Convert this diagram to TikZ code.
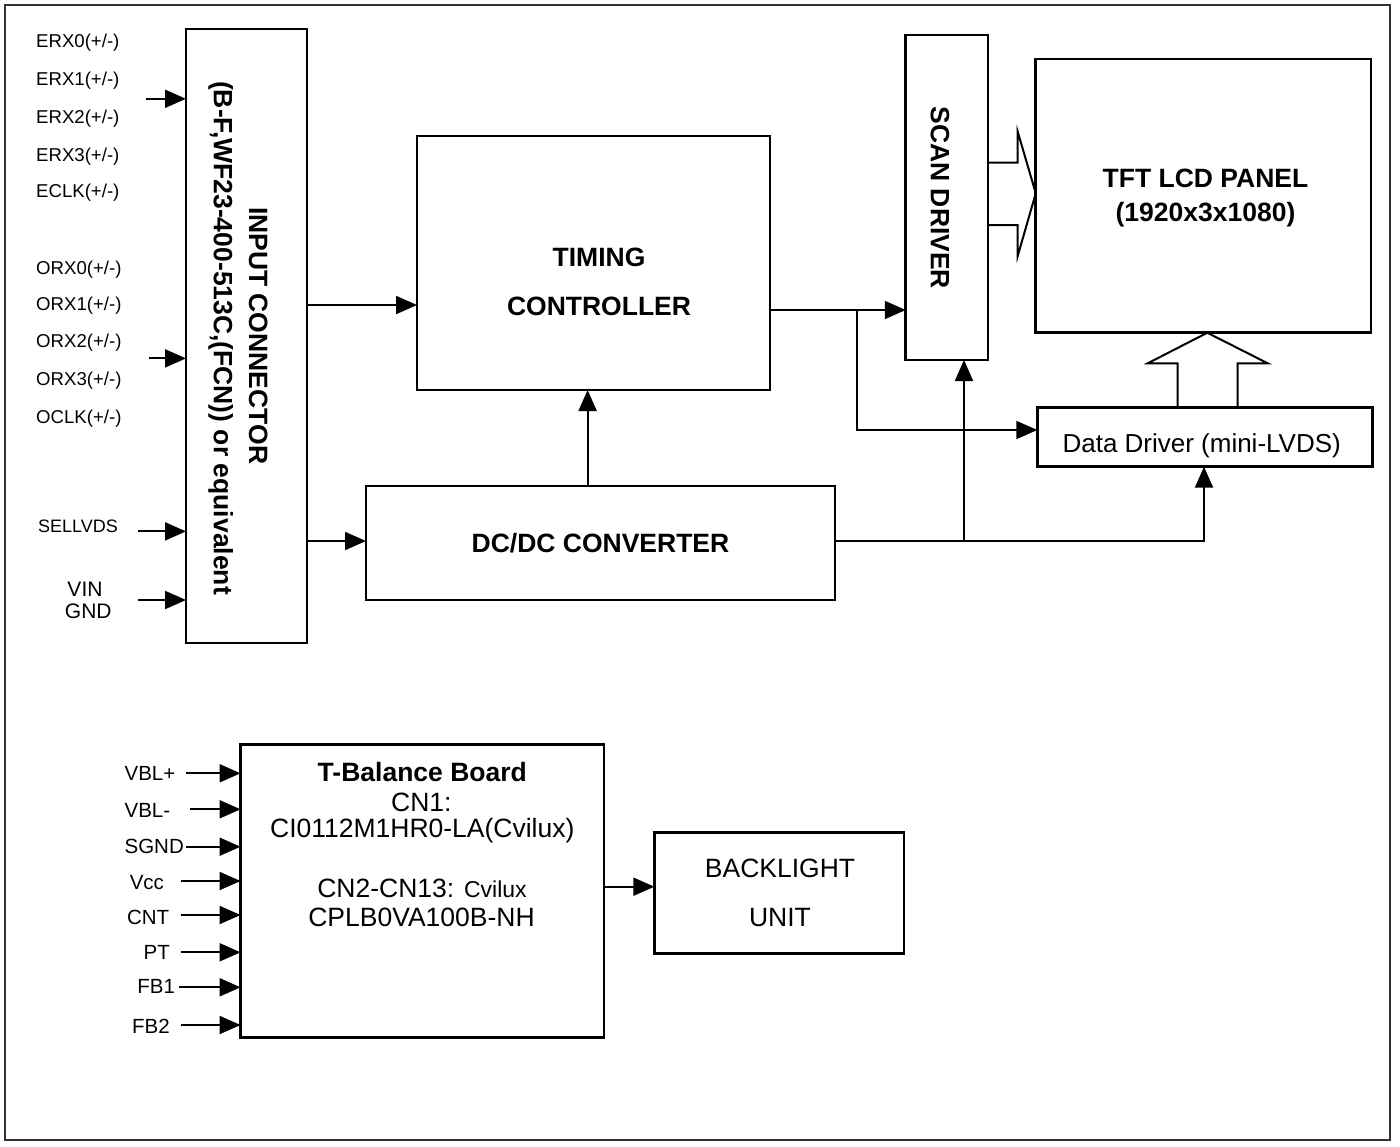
\documentclass[tikz,border=0pt]{standalone}
\usepackage{fontspec}
\setmainfont{Liberation Sans}
\usetikzlibrary{arrows.meta}
\newcommand\blkbold{\fontsize{26.5}{30}\selectfont\bfseries}
\newcommand\blknorm{\fontsize{26.5}{30}\selectfont}
\newcommand\lblsmall{\fontsize{18.6}{22}\selectfont}
\newcommand\lblvin{\fontsize{21}{24}\selectfont}
\newcommand\lbltb{\fontsize{20.5}{24}\selectfont}
\begin{document}
\begin{tikzpicture}[x=1pt,y=-1pt,
  box/.style={draw,line width=2.6pt,inner sep=0pt,outer sep=0pt},
  arr/.style={-{Triangle[length=21pt,width=18pt]},line width=2pt},
  hol/.style={draw,line width=2pt,line join=miter},
  txt/.style={inner sep=0pt,anchor=base},
  lbl/.style={inner sep=0pt,anchor=base west,font=\lblsmall},
  tbl/.style={inner sep=0pt,anchor=base west,font=\lbltb}]
\useasboundingbox (0,0) rectangle (1400,1146);
\draw[line width=2pt,black!80] (5,5) rectangle (1390,1140);

% blocks
\node[box,minimum width=121pt,minimum height=614pt] (inp) at (246.5,336) {};
\node[box,minimum width=353pt,minimum height=254pt] (tc) at (593.5,263) {};
\node[box,minimum width=469pt,minimum height=114pt] (dcdc) at (600.5,543) {};
\node[box,minimum width=82.3pt,minimum height=325pt] (scan) at (946.9,197.5) {};
\node[box,minimum width=335.3pt,minimum height=273.7pt] (tft) at (1203.4,195.9) {};
\node[box,minimum width=335pt,minimum height=59.4pt] (data) at (1204.8,437) {};
\node[box,minimum width=363.3pt,minimum height=293pt] (tbb) at (422.2,891.2) {};
\node[box,minimum width=249.7pt,minimum height=120.6pt] (bl) at (779.2,893) {};

% block texts
\node[inner sep=0pt,rotate=-90,font=\blkbold] (inpA) at (258.3,335.6) {INPUT CONNECTOR};
\node[inner sep=0pt,rotate=-90,font=\blkbold] (inpB) at (220.7,338) {(B-F,WF23-400-513C,(FCN)) or equivalent};
\node[txt,font=\blkbold] (tcA) at (599,266.5) {TIMING};
\node[txt,font=\blkbold] (tcB) at (599,315.5) {CONTROLLER};
\node[txt,font=\blkbold] (dcA) at (600.5,552.8) {DC/DC CONVERTER};
\node[inner sep=0pt,rotate=-90,font=\blkbold] (scA) at (940,197.8) {SCAN DRIVER};
\node[txt,font=\blkbold] (tfA) at (1205.5,187.8) {TFT LCD PANEL};
\node[txt,font=\blkbold] (tfB) at (1205.5,221.2) {(1920x3x1080)};
\node[txt,font=\fontsize{26}{30}\selectfont] (ddA) at (1201.7,452.6) {Data Driver (mini-LVDS)};
\node[txt,font=\blkbold] (tbA) at (422.3,781.2) {T-Balance Board};
\node[txt,font=\blknorm] (tbB) at (421.3,811.2) {CN1:};
\node[txt,font=\blknorm] (tbC) at (422.3,837.8) {CI0112M1HR0-LA(Cvilux)};
\node[txt,font=\blknorm] (tbD) at (422,897.8) {CN2-CN13: {\fontsize{23}{26}\selectfont Cvilux}};
\node[txt,font=\blknorm] (tbE) at (421.5,926.2) {CPLB0VA100B-NH};
\node[txt,font=\blknorm] (blA) at (780,877.8) {BACKLIGHT};
\node[txt,font=\blknorm] (blB) at (780,926.2) {UNIT};

% input labels
\node[lbl] (l1) at (36,47.5) {ERX0(+/-)};
\node[lbl] (l2) at (36,85.1) {ERX1(+/-)};
\node[lbl] (l3) at (36,123) {ERX2(+/-)};
\node[lbl] (l4) at (36,161) {ERX3(+/-)};
\node[lbl] (l5) at (36,197.7) {ECLK(+/-)};
\node[lbl] (l6) at (36,274) {ORX0(+/-)};
\node[lbl] (l7) at (36,310.7) {ORX1(+/-)};
\node[lbl] (l8) at (36,347.5) {ORX2(+/-)};
\node[lbl] (l9) at (36,385.5) {ORX3(+/-)};
\node[lbl] (l10) at (36,423) {OCLK(+/-)};
\node[lbl,font=\fontsize{18}{22}\selectfont] (l11) at (38,532.1) {SELLVDS};
\node[txt,font=\lblvin] (l12) at (85,596.1) {VIN};
\node[txt,font=\lblvin] (l13) at (88.3,618.5) {GND};

% input arrows
\coordinate (eIn) at (145.7,98.8);
\coordinate (oIn) at (149,358.4);
\coordinate (sIn) at (138,531.4);
\coordinate (vIn) at (138,600);
\draw[arr] (eIn) -- (eIn -| inp.west);
\draw[arr] (oIn) -- (oIn -| inp.west);
\draw[arr] (sIn) -- (sIn -| inp.west);
\draw[arr] (vIn) -- (vIn -| inp.west);

% main connectors
\coordinate (y305) at (0,305);
\coordinate (y541) at (0,541);
\coordinate (y310) at (0,310);
\coordinate (xdc) at (587.6,0);
\draw[arr] (inp.east |- y305) -- (tc.west |- y305);
\draw[arr] (inp.east |- y541) -- (dcdc.west |- y541);
\draw[arr] (dcdc.north -| xdc) -- (tc.south -| xdc);
\draw[arr] (tc.east |- y310) -- (scan.west |- y310);
\coordinate (j1) at (856.7,310);
\coordinate (y430) at (0,430);
\draw[arr] (j1) |- (data.west |- y430);
\coordinate (xdd) at (1204,0);
\draw[arr] (dcdc.east |- y541) -| (data.south -| xdd);
\coordinate (j2) at (964,541);
\draw[arr] (j2) -- (scan.south -| j2);

% hollow arrows
\draw[hol] (scan.east |- 0,162.7) -- (1017.7,162.7) -- (1017.7,131.7) -- (tft.west |- 0,193.3) -- (1017.7,256) -- (1017.7,225) -- (scan.east |- 0,225);
\draw[hol] (data.north -| 1177.7,0) -- (1177.7,363.3) -- (1147.7,363.3) -- (tft.south -| 1207.3,0) -- (1267.7,363.3) -- (1237.7,363.3) -- (data.north -| 1237.7,0);

% T-balance labels and arrows
\node[tbl] (t1) at (124.4,780.6) {VBL+};
\node[tbl] (t2) at (124.4,817.3) {VBL-};
\node[tbl] (t3) at (124.4,853.3) {SGND};
\node[tbl] (t4) at (129.6,889) {Vcc};
\node[tbl] (t5) at (126.8,924.6) {CNT};
\node[tbl] (t6) at (143.4,959.6) {PT};
\node[tbl] (t7) at (137.2,993) {FB1};
\node[tbl] (t8) at (132,1033.3) {FB2};
\coordinate (a1) at (186.4,773.3);
\coordinate (a2) at (189.9,809.3);
\coordinate (a3) at (186,846.7);
\coordinate (a4) at (181,881);
\coordinate (a5) at (181,915);
\coordinate (a6) at (181,952.3);
\coordinate (a7) at (178.8,987.3);
\coordinate (a8) at (181,1025);
\foreach \c in {a1,a2,a3,a4,a5,a6,a7,a8}
  \draw[arr] (\c) -- (\c -| tbb.west);
\coordinate (y887) at (0,886.7);
\draw[arr] (tbb.east |- y887) -- (bl.west |- y887);
\end{tikzpicture}
\end{document}
